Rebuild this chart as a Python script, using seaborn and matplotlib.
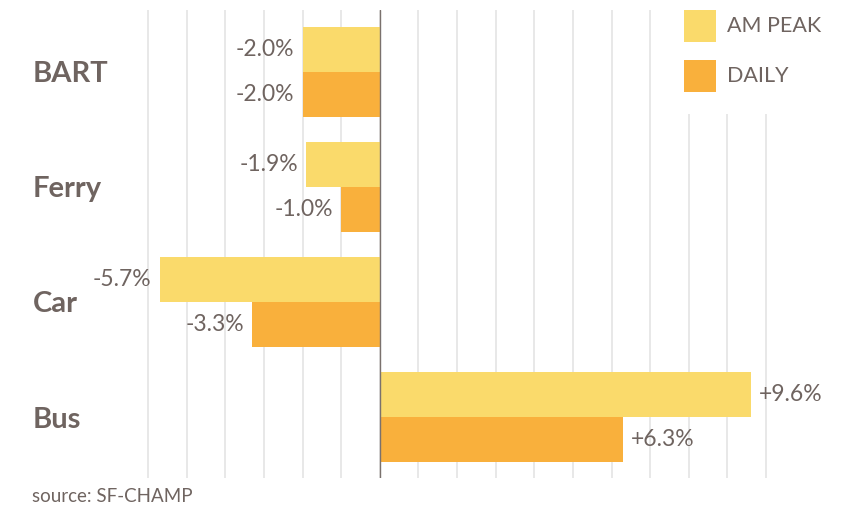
import matplotlib
matplotlib.use("Agg")
import matplotlib.pyplot as plt
from matplotlib.patches import Rectangle
import seaborn as sns
import pandas as pd

modes = ["BART", "Ferry", "Car", "Bus"]
am_peak = [-2.0, -1.9, -5.7, 9.6]
daily = [-2.0, -1.0, -3.3, 6.3]
series_names = ["AM PEAK", "DAILY"]
source_text = "source: SF-CHAMP"

colors = ["#FADA6B", "#F9B03C"]
text_color = "#6F6460"

df = pd.DataFrame({
    "mode": modes * 2,
    "value": am_peak + daily,
    "period": [series_names[0]] * len(modes) + [series_names[1]] * len(modes),
})

sns.set_theme(style="white")
plt.rcParams["font.family"] = ["Lato", "DejaVu Sans"]

W, H = 852, 505
fig = plt.figure(figsize=(W / 100, H / 100), dpi=100)
ppu = (766 - 148) / 16.0
x0, x1 = -6.15, 10.15
left_px = 148 + (x0 + 6) * ppu
right_px = 766 + (x1 - 10) * ppu
top_px, bot_px = 10, 478
ax = fig.add_axes([left_px / W, 1 - bot_px / H, (right_px - left_px) / W, (bot_px - top_px) / H])

sns.barplot(data=df, x="value", y="mode", hue="period", orient="h", order=modes,
            hue_order=series_names, palette=colors, width=90 / 115, saturation=1,
            linewidth=0, ax=ax, legend=False)

ax.set_xlim(x0, x1)
ax.set_ylim(3 + 61 / 115, -62 / 115)
ax.set_xticks(range(-6, 11))
ax.set_xticklabels([])
ax.tick_params(axis="x", length=0)
ax.grid(axis="x", color="#E6E6E6", linewidth=1.3, zorder=0)
ax.set_axisbelow(True)
ax.axvline(0, color="#7A716D", linewidth=1.0, zorder=3)
for s in ax.spines.values():
    s.set_visible(False)
ax.set_xlabel("")
ax.set_ylabel("")

ax.tick_params(axis="y", length=0, pad=(left_px - 33) / 1.389)
for lab in ax.get_yticklabels():
    lab.set_ha("left")
    lab.set_fontsize(21)
    lab.set_fontweight("bold")
    lab.set_color(text_color)

for cont, vals in zip(ax.containers, [am_peak, daily]):
    labels = [f"{v:+.1f}%" if v > 0 else f"{v:.1f}%" for v in vals]
    ax.bar_label(cont, labels=labels, padding=8 / 1.389, fontsize=16.5,
                 color=text_color, fontweight="normal")

# legend area (white backdrop over gridlines)
fig.patches.append(Rectangle((672 / W, 1 - 114 / H), (W - 672) / W, 114 / H,
                             transform=fig.transFigure, facecolor="white",
                             edgecolor="none", zorder=2))
for i, (name, c) in enumerate(zip(series_names, colors)):
    ytop = 10 + i * 50
    fig.patches.append(Rectangle((684 / W, 1 - (ytop + 32) / H), 32 / W, 32 / H,
                                 transform=fig.transFigure, facecolor=c,
                                 edgecolor="none", zorder=3))
    fig.text(727 / W, 1 - (ytop + 16) / H, name, fontsize=15.5, color=text_color,
             va="center", ha="left", zorder=4)

fig.text(32 / W, 1 - 497 / H, source_text, fontsize=13.5, color=text_color,
         va="center", ha="left")

fig.savefig("out.png", dpi=100)
